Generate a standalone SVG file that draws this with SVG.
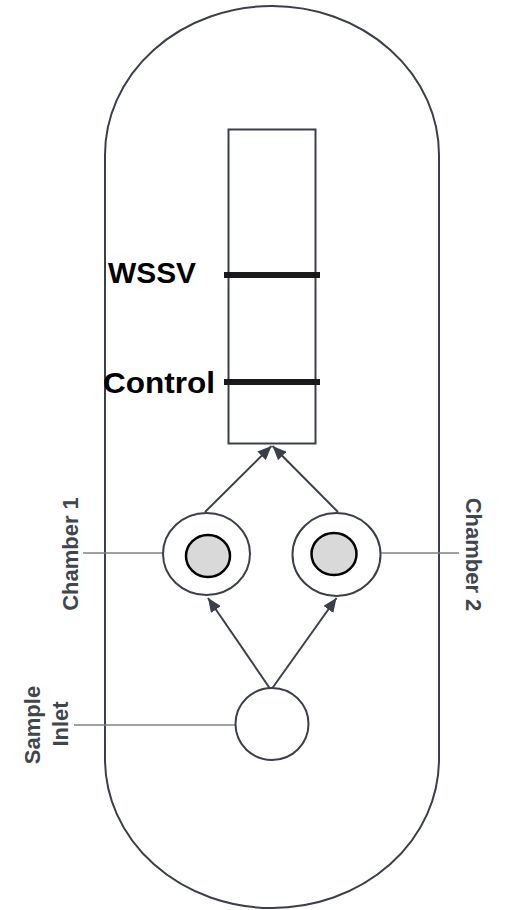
<svg xmlns="http://www.w3.org/2000/svg" width="505" height="910" viewBox="0 0 505 910">
<style>
.outline{fill:#fff;stroke:#3b4048;stroke-width:2}
.band{stroke:#1a1a1a;stroke-width:6}
.inner{fill:#d9d9d9;stroke:#000;stroke-width:2.5}
.leader{stroke:#7d8288;stroke-width:1.5;fill:none}
.arrow{stroke:#3b4048;stroke-width:2;fill:none}
.lbl{font-family:"Liberation Sans",Arial,sans-serif;font-weight:bold;font-size:30px;fill:#000}
.side{font-family:"Liberation Sans",Arial,sans-serif;font-weight:bold;font-size:22px;fill:#40464e;text-anchor:middle}
</style>
<defs>
<marker id="ah" viewBox="0 0 14 12" refX="14" refY="6" markerWidth="14" markerHeight="12" markerUnits="userSpaceOnUse" orient="auto">
<path d="M0,0 L14,6 L0,12 Z" fill="#3b4048"/>
</marker>
</defs>
<rect width="505" height="910" fill="#fff"/>
<g id="device">
<path class="outline" d="M105,155 A167,149 0 0 1 439,155 L439,759 A167,149 0 0 1 105,759 Z"/>
</g>
<g id="connectors">
<line class="leader" x1="83" y1="553" x2="163" y2="553"/>
<line class="leader" x1="381" y1="553" x2="459" y2="553"/>
<line class="leader" x1="74" y1="725" x2="236" y2="725"/>
<line class="arrow" x1="271" y1="690" x2="208" y2="598" marker-end="url(#ah)"/>
<line class="arrow" x1="271" y1="690" x2="336.5" y2="598" marker-end="url(#ah)"/>
<line class="arrow" x1="205" y1="512" x2="271.5" y2="446" marker-end="url(#ah)"/>
<line class="arrow" x1="338" y1="512" x2="272.5" y2="446" marker-end="url(#ah)"/>
</g>
<g id="strip">
<rect class="outline" x="228.5" y="129.5" width="87" height="314"/>
<line class="band" x1="224" y1="275" x2="320" y2="275"/>
<line class="band" x1="224" y1="382" x2="320" y2="382"/>
<text class="lbl" x="108" y="283" textLength="88" lengthAdjust="spacingAndGlyphs">WSSV</text>
<text class="lbl" x="103" y="393" textLength="112" lengthAdjust="spacingAndGlyphs">Control</text>
</g>
<g id="chamber1">
<ellipse class="outline" cx="206.5" cy="554" rx="43.5" ry="41"/>
<ellipse class="inner" cx="208" cy="556" rx="22" ry="21"/>
<text class="side" transform="translate(78,554) rotate(-90)" x="0" y="0">Chamber 1</text>
</g>
<g id="chamber2">
<ellipse class="outline" cx="336.5" cy="554.5" rx="44" ry="41.5"/>
<ellipse class="inner" cx="334" cy="554" rx="22.5" ry="21"/>
<text class="side" transform="translate(466,554.5) rotate(90)" x="0" y="0">Chamber 2</text>
</g>
<g id="inlet">
<ellipse class="outline" cx="272" cy="724" rx="36.5" ry="36"/>
<text class="side" transform="translate(40,725) rotate(-90)" x="0" y="0">Sample</text>
<text class="side" transform="translate(68,724) rotate(-90)" x="0" y="0">Inlet</text>
</g>
</svg>
